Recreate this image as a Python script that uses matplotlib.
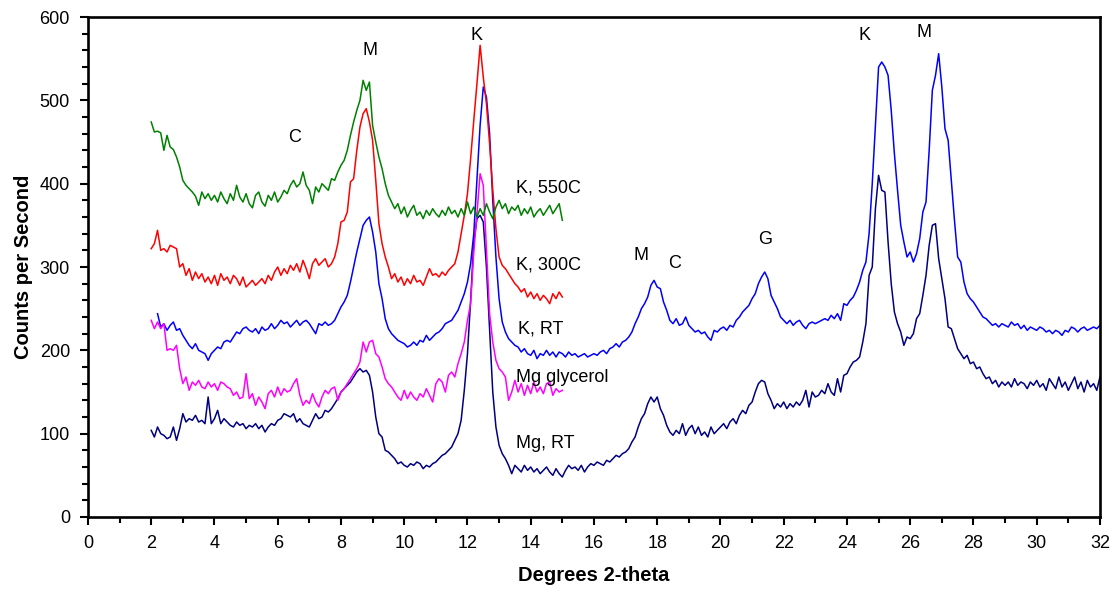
import matplotlib
matplotlib.use('Agg')
import matplotlib.pyplot as plt
import numpy as np
from matplotlib.ticker import MultipleLocator

plt.rcParams['font.family'] = ['Liberation Sans', 'DejaVu Sans']

# 2-theta scan, 0.1 degree step
theta_short = np.round(np.arange(2.0, 15.01, 0.1), 1)
theta_long = np.round(np.arange(2.0, 32.01, 0.1), 1)
theta_krt = np.round(np.arange(2.2, 32.01, 0.1), 1)

k550 = [474, 462, 463, 461, 440, 458, 444, 441, 432, 420,
        404, 398, 394, 390, 385, 374, 390, 382, 388, 380,
        386, 378, 390, 382, 376, 388, 380, 398, 384, 378,
        388, 376, 371, 386, 390, 378, 373, 386, 380, 390,
        378, 384, 392, 388, 398, 404, 396, 400, 414, 398,
        392, 376, 396, 390, 400, 396, 392, 406, 404, 414,
        422, 428, 440, 458, 474, 488, 500, 524, 512, 522,
        470, 450, 432, 418, 400, 386, 378, 370, 376, 364,
        372, 360, 368, 374, 362, 366, 358, 368, 362, 370,
        364, 360, 368, 362, 372, 364, 368, 360, 370, 362,
        378, 364, 372, 360, 370, 362, 376, 366, 358, 372,
        380, 370, 376, 364, 372, 368, 374, 362, 370, 364,
        372, 360, 366, 370, 362, 368, 374, 364, 370, 376,
        356]

k300 = [322, 328, 344, 320, 322, 318, 326, 324, 322, 300,
        304, 290, 298, 284, 294, 286, 292, 282, 288, 280,
        290, 278, 292, 284, 288, 280, 290, 286, 278, 288,
        276, 280, 284, 278, 282, 286, 280, 290, 284, 294,
        300, 290, 298, 292, 302, 296, 304, 294, 308, 298,
        286, 304, 310, 302, 306, 310, 300, 304, 312, 328,
        354, 356, 366, 402, 406, 440, 468, 484, 490, 474,
        452, 404, 352, 328, 312, 300, 286, 292, 282, 288,
        278, 286, 280, 290, 282, 284, 278, 288, 298, 290,
        292, 288, 294, 290, 296, 300, 304, 318, 340, 362,
        388, 430, 476, 520, 566, 528, 496, 448, 392, 346,
        312, 302, 298, 292, 286, 280, 276, 270, 274, 264,
        270, 262, 268, 260, 266, 262, 256, 268, 262, 270,
        264]

k_rt = [244, 228, 232, 224, 230, 234, 224, 226,
        218, 212, 206, 202, 208, 200, 198, 196, 188, 196,
        200, 204, 202, 210, 212, 210, 216, 222, 220, 226,
        228, 224, 222, 226, 220, 228, 224, 226, 232, 226,
        230, 236, 232, 234, 228, 232, 236, 230, 234, 236,
        232, 226, 220, 232, 230, 234, 230, 232, 236, 244,
        252, 258, 266, 282, 300, 318, 334, 350, 356, 360,
        342, 318, 280, 262, 238, 226, 220, 216, 212, 210,
        208, 204, 206, 210, 206, 212, 210, 218, 212, 216,
        220, 222, 226, 232, 234, 236, 242, 248, 258, 268,
        282, 304, 340, 404, 470, 516, 504, 460, 380, 312,
        262, 234, 222, 214, 210, 206, 204, 198, 202, 196,
        194, 200, 190, 196, 194, 200, 194, 198, 192, 198,
        196, 192, 198, 194, 196, 192, 194, 196, 192, 194,
        196, 194, 198, 200, 196, 202, 204, 208, 204, 210,
        212, 216, 222, 232, 240, 250, 256, 264, 278, 284,
        276, 274, 258, 248, 236, 232, 238, 230, 232, 240,
        230, 226, 222, 224, 220, 222, 216, 212, 224, 222,
        226, 228, 224, 230, 228, 236, 240, 246, 250, 254,
        262, 268, 280, 288, 294, 286, 266, 258, 250, 240,
        236, 232, 236, 230, 234, 236, 230, 226, 232, 234,
        232, 234, 236, 238, 236, 242, 238, 244, 236, 256,
        254, 260, 264, 272, 282, 296, 306, 340, 400, 470,
        540, 546, 540, 530, 488, 436, 392, 350, 330, 312,
        318, 306, 316, 334, 366, 378, 440, 512, 530, 556,
        516, 466, 452, 404, 356, 312, 306, 282, 268, 262,
        258, 252, 246, 240, 238, 234, 230, 232, 228, 232,
        230, 228, 234, 230, 232, 226, 230, 224, 228, 226,
        224, 228, 226, 222, 224, 220, 224, 222, 218, 224,
        222, 228, 226, 222, 226, 228, 224, 226, 228, 226,
        230]

mg_glycerol = [236, 226, 234, 226, 232, 200, 202, 200, 206, 178,
               160, 168, 152, 162, 158, 164, 156, 154, 162, 156,
               160, 152, 162, 160, 156, 154, 146, 150, 142, 144,
               172, 142, 148, 134, 144, 138, 130, 148, 152, 144,
               156, 146, 154, 150, 152, 160, 166, 146, 134, 140,
               136, 148, 138, 132, 144, 152, 148, 154, 156, 140,
               150, 154, 160, 166, 172, 178, 186, 210, 198, 210,
               212, 196, 192, 180, 166, 160, 156, 150, 144, 140,
               152, 142, 150, 144, 140, 148, 144, 154, 146, 138,
               160, 166, 162, 150, 170, 174, 168, 184, 196, 210,
               236, 256, 318, 364, 412, 398, 320, 244, 210, 188,
               178, 174, 168, 140, 150, 164, 150, 160, 146, 158,
               148, 162, 150, 156, 148, 160, 162, 146, 154, 150,
               152]

mg_rt = [104, 96, 108, 100, 98, 94, 96, 108, 92, 106,
         124, 114, 118, 116, 122, 114, 116, 112, 144, 112,
         118, 128, 112, 118, 114, 110, 108, 114, 110, 112,
         106, 110, 108, 112, 106, 110, 102, 108, 112, 110,
         116, 118, 124, 122, 120, 124, 114, 118, 112, 110,
         108, 116, 124, 118, 120, 128, 126, 130, 136, 142,
         150, 154, 158, 162, 168, 174, 178, 174, 176, 170,
         150, 120, 100, 96, 80, 78, 74, 70, 64, 66,
         62, 60, 64, 62, 66, 64, 58, 62, 60, 64,
         66, 70, 74, 76, 80, 84, 92, 100, 116, 152,
         196, 260, 330, 358, 362, 354, 300, 226, 150, 108,
         86, 76, 70, 62, 52, 62, 58, 54, 62, 56,
         60, 54, 58, 52, 56, 60, 54, 50, 58, 52,
         48, 56, 62, 58, 60, 56, 62, 54, 60, 64,
         62, 66, 64, 62, 68, 66, 70, 74, 72, 76,
         78, 82, 90, 96, 108, 118, 124, 136, 144, 138,
         144, 130, 122, 110, 102, 98, 104, 100, 112, 98,
         106, 110, 100, 108, 98, 102, 96, 108, 100, 104,
         108, 112, 106, 114, 118, 112, 122, 128, 124, 134,
         138, 150, 160, 164, 162, 148, 140, 130, 136, 132,
         138, 130, 136, 132, 138, 134, 140, 152, 132, 150,
         144, 146, 152, 148, 160, 150, 146, 166, 150, 170,
         172, 180, 186, 188, 192, 210, 232, 290, 300, 370,
         410, 392, 390, 330, 280, 246, 232, 222, 206, 216,
         214, 220, 238, 244, 266, 290, 326, 350, 352, 310,
         286, 262, 228, 226, 214, 202, 196, 190, 194, 184,
         186, 178, 180, 172, 166, 168, 160, 164, 156, 162,
         158, 162, 156, 166, 158, 162, 160, 154, 162, 158,
         164, 156, 160, 152, 166, 160, 154, 168, 156, 162,
         152, 160, 168, 154, 162, 150, 164, 156, 160, 152,
         168]

# curve labels (text, x, y) and peak letters
curve_labels = [("K, 550C", 13.55, 395), ("K, 300C", 13.55, 302),
                ("K, RT", 13.6, 226), ("Mg glycerol", 13.55, 168),
                ("Mg, RT", 13.55, 88)]
peak_labels = [("C", 6.52, 455), ("M", 8.92, 560), ("K", 12.3, 578),
               ("M", 17.48, 314), ("C", 18.55, 304), ("G", 21.4, 333),
               ("K", 24.55, 578), ("M", 26.43, 581)]

fig = plt.figure(figsize=(11.15, 5.95), dpi=100)
ax = fig.add_axes([0.0789, 0.1311, 0.9076, 0.8403])

ax.plot(theta_long, mg_rt, color='#000080', lw=1.1)
ax.plot(theta_krt, k_rt, color='#0000ff', lw=1.1)
ax.plot(theta_short, mg_glycerol, color='#ff00ff', lw=1.1)
ax.plot(theta_short, k300, color='#ff0000', lw=1.1)
ax.plot(theta_short, k550, color='#008000', lw=1.1)

for txt, x, y in curve_labels:
    ax.text(x, y, txt, fontsize=13, ha='left', va='center')
for txt, x, y in peak_labels:
    ax.text(x, y, txt, fontsize=13, ha='center', va='center')

ax.set_xlim(0, 32)
ax.set_ylim(0, 600)
ax.xaxis.set_major_locator(MultipleLocator(2))
ax.xaxis.set_minor_locator(MultipleLocator(1))
ax.yaxis.set_major_locator(MultipleLocator(100))
ax.yaxis.set_minor_locator(MultipleLocator(20))
ax.tick_params(which='both', direction='out', width=1.5, labelsize=13,
               top=False, right=False)
ax.tick_params(which='major', length=6, pad=7)
ax.tick_params(which='minor', length=4)
for sp in ax.spines.values():
    sp.set_linewidth(1.9)

ax.set_xlabel('Degrees 2-theta', fontsize=14.5, fontweight='bold', labelpad=10)
ax.set_ylabel('Counts per Second', fontsize=14.5, fontweight='bold', labelpad=5)

fig.savefig('out.png', dpi=100)
